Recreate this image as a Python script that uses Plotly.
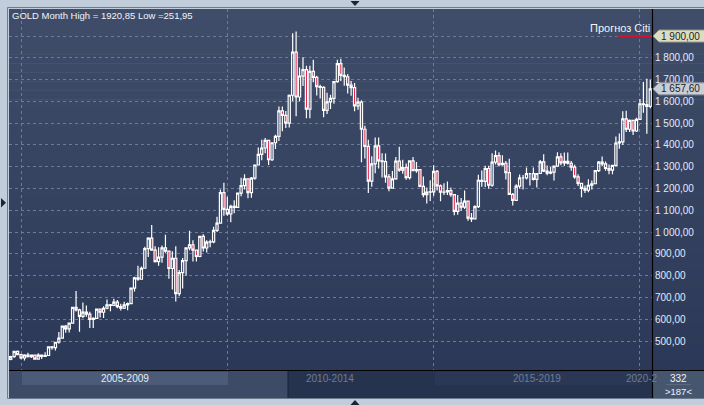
import plotly.graph_objects as go

# ---------------- data ----------------
MONTHS = [f"{y}-{m:02d}" for y in range(2004, 2021) for m in range(1, 13)
          if "2004-10" <= f"{y}-{m:02d}" <= "2020-04"]

OPEN = [415.6, 428.6, 452.4,
        438.0, 422.1, 435.8, 428.7, 435.3, 416.6, 435.6, 429.5, 433.6, 472.9, 470.1, 494.3,
        513.0, 568.8, 556.0, 582.0, 654.5, 643.0, 613.5, 632.5, 623.5, 599.3, 603.8, 646.7,
        632.0, 650.5, 666.0, 663.0, 679.0, 657.5, 650.5, 665.5, 672.0, 743.0, 789.5, 783.5,
        834.0, 924.0, 972.0, 917.0, 864.0, 885.0, 928.0, 913.0, 833.0, 880.0, 718.0, 814.0,
        869.0, 928.0, 942.0, 917.0, 888.0, 980.0, 927.0, 954.0, 955.0, 1008.0, 1041.0, 1181.0,
        1104.0, 1083.0, 1118.0, 1113.0, 1179.0, 1213.0, 1244.0, 1181.0, 1248.0, 1308.0, 1357.0, 1386.0,
        1421.0, 1332.0, 1410.0, 1439.0, 1556.0, 1536.0, 1500.0, 1628.0, 1826.0, 1620.0, 1716.0, 1746.0,
        1564.0, 1738.0, 1710.0, 1668.0, 1664.0, 1559.0, 1598.0, 1614.0, 1691.0, 1773.0, 1719.0, 1713.0,
        1675.0, 1663.0, 1579.0, 1597.0, 1472.0, 1393.0, 1234.0, 1313.0, 1396.0, 1327.0, 1323.0, 1253.0,
        1202.0, 1244.0, 1326.0, 1284.0, 1296.0, 1250.0, 1327.0, 1282.0, 1287.0, 1210.0, 1172.0, 1183.0,
        1185.0, 1279.0, 1212.0, 1183.0, 1184.0, 1190.0, 1172.0, 1095.0, 1133.0, 1115.0, 1142.0, 1064.0,
        1061.0, 1117.0, 1238.0, 1233.0, 1292.0, 1215.0, 1321.0, 1351.0, 1309.0, 1316.0, 1273.0, 1173.0,
        1146.0, 1211.0, 1249.0, 1249.0, 1268.0, 1268.0, 1242.0, 1269.0, 1322.0, 1280.0, 1271.0, 1275.0,
        1303.0, 1345.0, 1318.0, 1325.0, 1316.0, 1298.0, 1253.0, 1224.0, 1201.0, 1192.0, 1215.0, 1222.0,
        1282.0, 1321.0, 1313.0, 1292.0, 1284.0, 1306.0, 1409.0, 1414.0, 1520.0, 1472.0, 1513.0, 1464.0,
        1517.0, 1589.0, 1585.0, 1577.0]

HIGH = [432.6, 455.7, 456.9,
        442.0, 439.5, 445.8, 437.2, 436.5, 443.6, 436.5, 448.5, 474.5, 477.7, 496.5, 540.9,
        569.6, 574.0, 584.5, 654.5, 730.0, 648.0, 676.5, 663.5, 634.0, 609.0, 649.0, 648.5,
        660.0, 690.5, 670.0, 694.5, 688.0, 671.5, 680.0, 677.0, 745.0, 795.0, 845.0, 842.0,
        933.0, 976.0, 1032.0, 935.0, 930.0, 939.0, 988.0, 916.0, 912.0, 935.0, 826.0, 881.0,
        928.0, 1006.0, 963.0, 920.0, 982.0, 990.0, 962.0, 965.0, 1024.0, 1070.0, 1195.0, 1227.0,
        1162.0, 1125.0, 1146.0, 1181.0, 1249.0, 1266.0, 1246.0, 1253.0, 1310.0, 1388.0, 1424.0, 1432.0,
        1423.0, 1411.0, 1447.0, 1576.0, 1577.0, 1556.0, 1632.0, 1913.0, 1921.0, 1755.0, 1803.0, 1764.0,
        1764.0, 1791.0, 1718.0, 1676.0, 1669.0, 1640.0, 1630.0, 1693.0, 1791.0, 1796.0, 1755.0, 1726.0,
        1694.0, 1684.0, 1617.0, 1605.0, 1488.0, 1424.0, 1348.0, 1434.0, 1434.0, 1362.0, 1361.0, 1267.0,
        1280.0, 1345.0, 1392.0, 1332.0, 1315.0, 1325.0, 1345.0, 1322.0, 1290.0, 1255.0, 1205.0, 1238.0,
        1307.0, 1285.0, 1219.0, 1224.0, 1232.0, 1205.0, 1175.0, 1170.0, 1157.0, 1191.0, 1143.0, 1088.0,
        1123.0, 1263.0, 1283.0, 1304.0, 1304.0, 1362.0, 1375.0, 1367.0, 1353.0, 1326.0, 1337.0, 1180.0,
        1220.0, 1264.0, 1262.0, 1296.0, 1270.0, 1296.0, 1270.0, 1331.0, 1357.0, 1306.0, 1299.0, 1305.0,
        1366.0, 1362.0, 1365.0, 1365.0, 1326.0, 1309.0, 1265.0, 1225.0, 1214.0, 1243.0, 1237.0, 1285.0,
        1326.0, 1347.0, 1324.0, 1310.0, 1306.0, 1439.0, 1453.0, 1555.0, 1557.0, 1517.0, 1516.0, 1525.0,
        1611.0, 1689.0, 1704.0, 1700.0]

LOW = [411.5, 423.4, 434.5,
       416.8, 411.1, 424.3, 421.9, 414.5, 414.6, 417.3, 428.5, 432.0, 459.7, 456.9, 488.0,
       512.0, 538.5, 538.8, 582.0, 636.0, 542.0, 605.0, 611.5, 560.0, 560.0, 603.0, 608.0,
       605.5, 646.0, 637.0, 663.0, 651.0, 640.0, 647.0, 641.5, 670.0, 727.0, 777.0, 781.0,
       834.0, 886.0, 919.0, 860.0, 845.0, 859.0, 905.0, 786.0, 736.0, 681.0, 705.0, 741.0,
       800.0, 917.0, 865.0, 865.0, 884.0, 911.0, 906.0, 930.0, 949.0, 1000.0, 1040.0, 1075.0,
       1075.0, 1045.0, 1087.0, 1112.0, 1164.0, 1195.0, 1155.0, 1158.0, 1240.0, 1306.0, 1330.0, 1362.0,
       1308.0, 1326.0, 1381.0, 1418.0, 1463.0, 1478.0, 1480.0, 1600.0, 1532.0, 1600.0, 1670.0, 1523.0,
       1523.0, 1688.0, 1627.0, 1613.0, 1527.0, 1542.0, 1565.0, 1589.0, 1685.0, 1693.0, 1672.0, 1636.0,
       1626.0, 1555.0, 1562.0, 1321.0, 1338.0, 1180.0, 1208.0, 1270.0, 1292.0, 1251.0, 1226.0, 1187.0,
       1200.0, 1240.0, 1277.0, 1268.0, 1240.0, 1241.0, 1281.0, 1272.0, 1206.0, 1160.0, 1131.0, 1143.0,
       1167.0, 1191.0, 1142.0, 1170.0, 1170.0, 1162.0, 1077.0, 1080.0, 1098.0, 1106.0, 1052.0, 1046.0,
       1060.0, 1111.0, 1208.0, 1207.0, 1199.0, 1208.0, 1310.0, 1301.0, 1305.0, 1241.0, 1171.0, 1122.0,
       1146.0, 1200.0, 1195.0, 1241.0, 1214.0, 1237.0, 1205.0, 1267.0, 1276.0, 1261.0, 1265.0, 1237.0,
       1303.0, 1307.0, 1303.0, 1310.0, 1282.0, 1245.0, 1211.0, 1160.0, 1180.0, 1183.0, 1196.0, 1221.0,
       1276.0, 1302.0, 1281.0, 1266.0, 1266.0, 1301.0, 1382.0, 1400.0, 1459.0, 1459.0, 1446.0, 1459.0,
       1517.0, 1548.0, 1451.0, 1568.0]

CLOSE = OPEN[1:] + [1657.60]

Y_TICKS = [500, 600, 700, 800, 900, 1000, 1100, 1200, 1300, 1400, 1500, 1600, 1700, 1800, 1900]
Y_TICKTEXT = ["500,00", "600,00", "700,00", "800,00", "900,00", "1 000,00", "1 100,00",
              "1 200,00", "1 300,00", "1 400,00", "1 500,00", "1 600,00", "1 700,00",
              "1 800,00", ""]
PERIOD_STARTS = ["2005-01", "2010-01", "2015-01", "2020-01"]
PERIOD_LABELS = ["2005-2009", "2010-2014", "2015-2019", "2020-2"]

TITLE = "GOLD Month High = 1920,85 Low =251,95"
LAST_PRICE = 1657.60
LAST_PRICE_TEXT = "1 657,60"
CITI_FORECAST = 1900.00
CITI_TEXT = "1 900,00"
CITI_LABEL = "Прогноз Citi"
SCROLL_TOTAL = "332"
SCROLL_VISIBLE = ">187<"

# ---------------- geometry helpers ----------------
W, H = 704, 405
PL, PR, PT, PB = 9, 652, 9, 370
Y_RANGE = [367, 2024]


def px(x):
    return (x - PL) / (PR - PL)


def py(y):
    return (PB - y) / (PB - PT)


FONT = "Liberation Sans, Arial, sans-serif"

fig = go.Figure()
fig.add_trace(go.Candlestick(
    x=MONTHS, open=OPEN, high=HIGH, low=LOW, close=CLOSE,
    increasing=dict(line=dict(color="#ffffff", width=1.2), fillcolor="rgba(0,0,0,0)"),
    decreasing=dict(line=dict(color="#ffffff", width=1.2), fillcolor="#e3133c"),
    whiskerwidth=0, hoverinfo="skip", showlegend=False,
))

shapes = []


def rect(x0, y0, x1, y1, fill, layer="below", line=None):
    d = dict(type="rect", xref="paper", yref="paper",
             x0=px(x0), x1=px(x1), y0=py(y0), y1=py(y1),
             fillcolor=fill, layer=layer, line=dict(width=0))
    if line:
        d["line"] = line
    shapes.append(d)


def hline(x0, x1, y, color, width=1, layer="above"):
    shapes.append(dict(type="line", xref="paper", yref="paper", x0=px(x0), x1=px(x1),
                       y0=py(y), y1=py(y), line=dict(color=color, width=width), layer=layer))


def vline(x, y0, y1, color, width=1, layer="above"):
    shapes.append(dict(type="line", xref="paper", yref="paper", x0=px(x), x1=px(x),
                       y0=py(y0), y1=py(y1), line=dict(color=color, width=width), layer=layer))


# gradient background of plot area + right axis panel
top_c = (63, 77, 105)
bot_c = (43, 56, 87)
N = 40
for i in range(N):
    t = i / (N - 1)
    c = tuple(round(top_c[k] + (bot_c[k] - top_c[k]) * t) for k in range(3))
    y0 = PT + (PB - PT) * i / N
    y1 = PT + (PB - PT) * (i + 1) / N + 0.6
    rect(PL, y0, W + 1, y1, "rgb(%d,%d,%d)" % c)

# bottom navigator bar
rect(PL, 371, 288, 398, "#3d4b66")
rect(22, 372, 228, 385, "#4b5b78")
rect(288, 371, 652, 398, "#26334f")
rect(435, 372, 640, 385, "#2b3855")
vline(288, 371, 398, "#1a2336", 1, "below")
rect(653, 371, W + 1, 398, "#47566f")
hline(666, 691, 384.5, "#5d687d", 1)

# frame
rect(7.5, 7.5, W + 2, 398.5, "rgba(0,0,0,0)", "above", dict(color="#6e7a8e", width=1))
hline(PL, W + 1, 370.5, "#000000", 1.2)
vline(652.5, PT, 398, "#000000", 1.2)

# navigation arrows
def tri(pts):
    path = "M " + " L ".join("%f,%f" % (px(a), py(b)) for a, b in pts) + " Z"
    shapes.append(dict(type="path", xref="paper", yref="paper", path=path,
                       fillcolor="#1c2436", line=dict(width=0), layer="above"))


tri([(350.5, 1), (359.5, 1), (355, 6)])
tri([(350.5, 405), (359.5, 405), (355, 400)])
tri([(1, 198), (1, 207.5), (6, 202.75)])

# Citi forecast line
shapes.append(dict(type="line", xref="paper", yref="y", x0=px(617), x1=px(651),
                   y0=CITI_FORECAST, y1=CITI_FORECAST,
                   line=dict(color="#d8102c", width=2), layer="above"))

# price boxes on the axis
HALF = 6 / ((PB - PT) / (Y_RANGE[1] - Y_RANGE[0]))


def price_box(val, fill, border):
    path = ("M %f,%f L %f,%f L %f,%f L %f,%f L %f,%f Z" % (
        px(653), val, px(659), val + HALF, px(W + 1), val + HALF,
        px(W + 1), val - HALF, px(659), val - HALF))
    shapes.append(dict(type="path", xref="paper", yref="y", path=path,
                       fillcolor=fill, line=dict(color=border, width=1), layer="above"))


price_box(CITI_FORECAST, "#dcdcc2", "#9a9a84")
price_box(LAST_PRICE, "#c9cdd5", "#8f95a2")

annotations = [
    dict(text=TITLE, x=px(10), y=py(15.5), xref="paper", yref="paper", xanchor="left",
         yanchor="middle", showarrow=False, font=dict(family=FONT, size=9.5, color="#f2f4f8")),
    dict(text=CITI_LABEL, x=px(651.5), y=py(28), xref="paper", yref="paper", xanchor="right",
         yanchor="middle", showarrow=False, font=dict(family=FONT, size=11, color="#f4f4f4")),
    dict(text=CITI_TEXT, x=px(659), y=CITI_FORECAST, xref="paper", yref="y", xanchor="left",
         yanchor="middle", showarrow=False, font=dict(family=FONT, size=10, color="#1e1e1e")),
    dict(text=LAST_PRICE_TEXT, x=px(659), y=LAST_PRICE, xref="paper", yref="y", xanchor="left",
         yanchor="middle", showarrow=False, font=dict(family=FONT, size=10, color="#1e1e1e")),
    dict(text=SCROLL_TOTAL, x=px(678.5), y=py(378), xref="paper", yref="paper", xanchor="center",
         yanchor="middle", showarrow=False, font=dict(family=FONT, size=10, color="#eef2f8")),
    dict(text=SCROLL_VISIBLE, x=px(678.5), y=py(391), xref="paper", yref="paper", xanchor="center",
         yanchor="middle", showarrow=False, font=dict(family=FONT, size=9.5, color="#eef2f8")),
]

label_centers = [125, 330, 537]
label_colors = ["#e6edf7", "#6e7c96", "#6e7c96"]
for lab, cx, col in zip(PERIOD_LABELS[:3], label_centers, label_colors):
    annotations.append(dict(text=lab, x=px(cx), y=py(378.5), xref="paper", yref="paper",
                            xanchor="center", yanchor="middle", showarrow=False,
                            font=dict(family=FONT, size=10, color=col)))
annotations.append(dict(text=PERIOD_LABELS[3], x=px(624), y=py(378.5), xref="paper", yref="paper",
                        xanchor="left", yanchor="middle", showarrow=False,
                        font=dict(family=FONT, size=10, color="#6e7c96")))

fig.update_layout(
    width=W, height=H,
    margin=dict(l=PL, r=W - PR, t=PT, b=H - PB, pad=0),
    paper_bgcolor="#c2cddb",
    plot_bgcolor="rgba(0,0,0,0)",
    showlegend=False,
    boxgap=0.1,
    shapes=shapes,
    annotations=annotations,
    xaxis=dict(type="category", range=[-0.5, len(MONTHS) - 0.5], rangeslider=dict(visible=False),
               tickvals=PERIOD_STARTS, showticklabels=False, showgrid=True,
               gridcolor="#6c7b97", griddash="3px,3px", gridwidth=1,
               zeroline=False, showline=False, ticks="", fixedrange=True),
    yaxis=dict(side="right", range=Y_RANGE, tickvals=Y_TICKS, ticktext=Y_TICKTEXT,
               showgrid=True, gridcolor="#6c7b97", griddash="3px,3px", gridwidth=1,
               zeroline=False, showline=False, ticks="", ticklabelstandoff=2,
               tickfont=dict(family=FONT, size=10, color="#e2eaf8"), fixedrange=True),
)

fig.write_html(
    "out.html",
    config={"displayModeBar": False, "staticPlot": True},
    post_script="document.body.style.margin='0';document.body.style.overflow='hidden';"
                "document.documentElement.style.overflow='hidden';",
)
